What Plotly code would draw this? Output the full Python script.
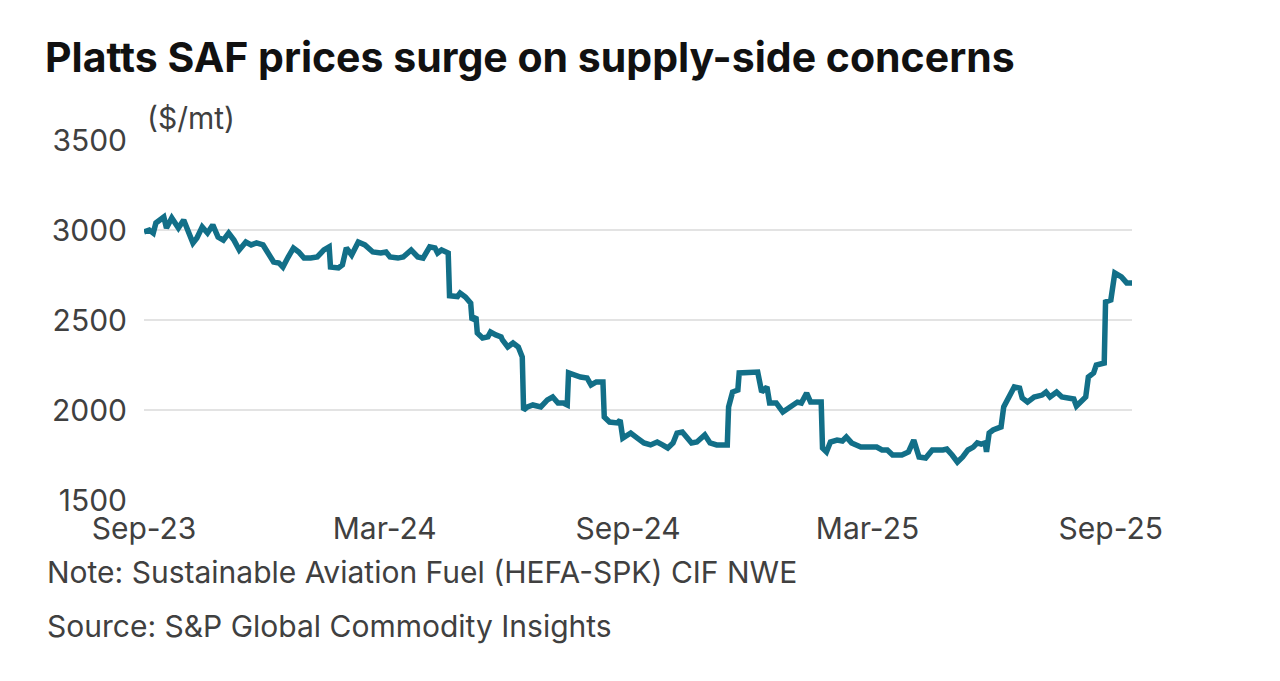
import plotly.graph_objects as go

# Platts SAF (HEFA-SPK) CIF NWE, $/mt
dates = [
    "2023-09-01", "2023-09-05", "2023-09-08", "2023-09-10", "2023-09-16", "2023-09-18",
    "2023-09-22", "2023-09-27", "2023-10-01", "2023-10-04", "2023-10-08", "2023-10-11",
    "2023-10-15", "2023-10-19", "2023-10-23", "2023-10-27", "2023-10-31", "2023-11-04",
    "2023-11-08", "2023-11-12", "2023-11-17", "2023-11-21", "2023-11-25", "2023-11-30",
    "2023-12-03", "2023-12-08", "2023-12-12", "2023-12-15", "2023-12-19", "2023-12-23",
    "2023-12-27", "2023-12-31", "2024-01-05", "2024-01-10", "2024-01-15", "2024-01-19",
    "2024-01-20", "2024-01-26", "2024-01-29", "2024-02-01", "2024-02-05", "2024-02-10",
    "2024-02-15", "2024-02-21", "2024-02-27", "2024-03-02", "2024-03-05", "2024-03-11",
    "2024-03-15", "2024-03-21", "2024-03-26", "2024-03-30", "2024-04-04", "2024-04-08",
    "2024-04-10", "2024-04-13", "2024-04-18", "2024-04-19", "2024-04-25", "2024-04-27",
    "2024-05-01", "2024-05-05", "2024-05-06", "2024-05-09", "2024-05-10", "2024-05-14",
    "2024-05-18", "2024-05-20", "2024-05-24", "2024-05-28", "2024-05-29", "2024-06-02",
    "2024-06-06", "2024-06-10", "2024-06-13", "2024-06-14", "2024-06-17", "2024-06-21",
    "2024-06-27", "2024-07-02", "2024-07-06", "2024-07-10", "2024-07-14", "2024-07-17",
    "2024-07-18", "2024-07-22", "2024-07-27", "2024-08-01", "2024-08-04", "2024-08-08",
    "2024-08-13", "2024-08-14", "2024-08-18", "2024-08-24", "2024-08-26", "2024-08-28",
    "2024-09-03", "2024-09-08", "2024-09-13", "2024-09-18", "2024-09-23", "2024-09-27",
    "2024-10-01", "2024-10-05", "2024-10-08", "2024-10-12", "2024-10-15", "2024-10-19",
    "2024-10-23", "2024-10-29", "2024-11-02", "2024-11-07", "2024-11-15", "2024-11-16",
    "2024-11-19", "2024-11-23", "2024-11-24", "2024-12-05", "2024-12-08", "2024-12-11",
    "2024-12-15", "2024-12-17", "2024-12-22", "2024-12-27", "2025-01-01", "2025-01-07",
    "2025-01-10", "2025-01-14", "2025-01-17", "2025-01-25", "2025-01-26", "2025-01-29",
    "2025-02-01", "2025-02-06", "2025-02-10", "2025-02-13", "2025-02-17", "2025-02-24",
    "2025-03-08", "2025-03-12", "2025-03-16", "2025-03-20", "2025-03-27", "2025-04-01",
    "2025-04-05", "2025-04-09", "2025-04-14", "2025-04-19", "2025-04-27", "2025-04-30",
    "2025-05-04", "2025-05-08", "2025-05-12", "2025-05-16", "2025-05-20", "2025-05-23",
    "2025-05-26", "2025-05-29", "2025-05-30", "2025-06-01", "2025-06-04", "2025-06-10",
    "2025-06-12", "2025-06-16", "2025-06-20", "2025-06-24", "2025-06-26", "2025-06-30",
    "2025-07-05", "2025-07-11", "2025-07-14", "2025-07-17", "2025-07-22", "2025-07-26",
    "2025-07-31", "2025-08-04", "2025-08-06", "2025-08-09", "2025-08-13", "2025-08-15",
    "2025-08-19", "2025-08-21", "2025-08-27", "2025-08-28", "2025-09-01", "2025-09-04",
    "2025-09-07", "2025-09-09", "2025-09-13", "2025-09-17",
]
prices = [
    2989, 3000, 2983, 3039, 3072, 3011,
    3067, 3011, 3056, 3000, 2928, 2956,
    3017, 2983, 3028, 2961, 2944, 2983,
    2944, 2889, 2933, 2917, 2928, 2917,
    2878, 2822, 2817, 2794, 2850, 2900,
    2878, 2844, 2844, 2850, 2889, 2906,
    2794, 2789, 2806, 2900, 2861, 2933,
    2917, 2878, 2872, 2878, 2850, 2844,
    2850, 2889, 2850, 2844, 2906, 2900,
    2872, 2889, 2872, 2635, 2630, 2650,
    2628, 2594, 2500, 2517, 2428, 2400,
    2406, 2433, 2417, 2406, 2389, 2350,
    2372, 2350, 2294, 2000, 2017, 2028,
    2017, 2056, 2072, 2039, 2039, 2028,
    2206, 2194, 2183, 2178, 2139, 2156,
    2156, 1961, 1933, 1928, 1944, 1844,
    1872, 1844, 1817, 1806, 1822, 1806,
    1789, 1817, 1872, 1878, 1850, 1817,
    1822, 1861, 1817, 1806, 1806, 2017,
    2100, 2111, 2206, 2206, 2211, 2100,
    2128, 2039, 2039, 1989, 2017, 2044,
    2039, 2094, 2044, 2044, 1789, 1767,
    1822, 1833, 1828, 1850, 1817, 1794,
    1794, 1778, 1778, 1750, 1750, 1767,
    1833, 1739, 1733, 1778, 1778, 1783,
    1750, 1711, 1739, 1778, 1794, 1817,
    1810, 1817, 1767, 1872, 1889, 1906,
    2017, 2072, 2128, 2122, 2067, 2044,
    2072, 2083, 2100, 2072, 2100, 2072,
    2067, 2061, 2022, 2044, 2072, 2183,
    2206, 2250, 2261, 2600, 2611, 2761,
    2750, 2739, 2706, 2706,
]

tick_dates = ["2023-09-01", "2024-03-01", "2024-09-01", "2025-03-01", "2025-09-01"]
tick_labels = ["Sep-23", "Mar-24", "Sep-24", "Mar-25", "Sep-25"]
y_ticks = [1500, 2000, 2500, 3000, 3500]

FONT = "Inter, Roboto, sans-serif"
GREY = "#404040"

fig = go.Figure()
fig.add_trace(go.Scatter(
    x=dates, y=prices, mode="lines",
    line=dict(color="#126f88", width=5.5),
    hoverinfo="x+y", showlegend=False,
))

# page body has an 8px margin, so the figure is sized to fit the window from there
fig.update_layout(
    width=1272, height=673,
    paper_bgcolor="white", plot_bgcolor="white",
    margin=dict(l=136, r=148, t=132, b=181),
    font=dict(family=FONT, color=GREY, size=30),
    title=dict(
        text="<b>Platts SAF prices surge on supply-side concerns</b>",
        x=37 / 1272, xanchor="left", xref="container",
        y=1 - 50 / 673, yanchor="middle", yref="container",
        font=dict(family=FONT, size=41, color="#111111"),
    ),
)

fig.update_xaxes(
    range=["2023-09-01", "2025-09-17"],
    tickvals=tick_dates, ticktext=tick_labels,
    showgrid=False, zeroline=False, showline=False,
    ticks="", ticklabelstandoff=8,
    tickfont=dict(size=30, color=GREY),
)
fig.update_yaxes(
    range=[1500, 3500], tickvals=y_ticks,
    showgrid=True, gridcolor="#e3e3e3", gridwidth=1.5,
    zeroline=False, showline=False, ticks="",
    ticklabelstandoff=16,
    tickfont=dict(size=30, color=GREY),
)

fig.add_annotation(
    text="($/mt)", xref="paper", yref="paper",
    x=0.001, y=1.061, xanchor="left", yanchor="middle",
    showarrow=False, font=dict(size=30, color=GREY),
)
fig.add_annotation(
    text="Note: Sustainable Aviation Fuel (HEFA-SPK) CIF NWE",
    xref="paper", yref="paper", x=-99 / 988, y=-72 / 360,
    xanchor="left", yanchor="middle",
    showarrow=False, font=dict(size=30, color=GREY),
)
fig.add_annotation(
    text="Source: S&P Global Commodity Insights",
    xref="paper", yref="paper", x=-99 / 988, y=-126 / 360,
    xanchor="left", yanchor="middle",
    showarrow=False, font=dict(size=30, color=GREY),
)

fig.write_html("out.html")
